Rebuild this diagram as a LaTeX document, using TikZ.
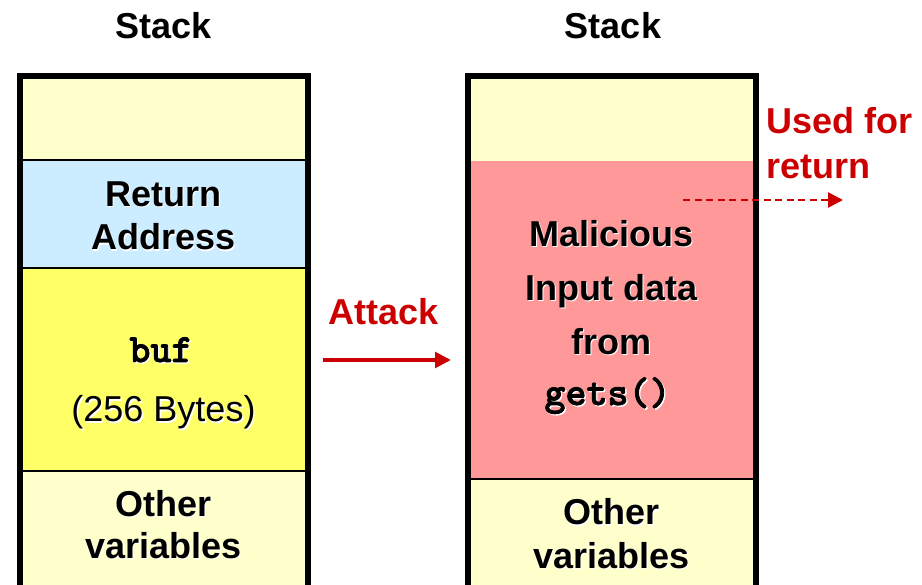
\documentclass[tikz,border=0pt]{standalone}
\usepackage{fontspec}
\setmainfont{Liberation Sans}
\newfontfamily\codefont{Latin Modern Mono Light}[BoldFeatures={FakeBold=2}]
\usetikzlibrary{arrows.meta}

\definecolor{paleyel}{HTML}{FFFFCC}
\definecolor{paleblue}{HTML}{CCECFF}
\definecolor{bufyel}{HTML}{FFFF66}
\definecolor{evilred}{HTML}{FF9999}
\definecolor{alertred}{HTML}{CC0000}

% soft white drop shadow behind cell labels
\newcommand\shtext[1]{\rlap{\kern1.3pt\raisebox{-1.3pt}{\color{white}#1}}#1}

\tikzset{
  cell/.style={rectangle, inner sep=0pt, outer sep=0pt, minimum width=288pt, draw=none},
  wall/.style={line width=6pt, line join=miter, black},
  divider/.style={line width=1.6pt, black},
  big/.style={font=\fontsize{36}{40}\selectfont\bfseries, inner sep=0pt, anchor=base},
  bigplain/.style={font=\fontsize{36}{40}\selectfont, inner sep=0pt, anchor=base},
  bigmono/.style={font=\fontsize{40}{44}\selectfont\codefont\bfseries, inner sep=0pt, anchor=base},
  alert/.style={font=\fontsize{36}{40}\selectfont\bfseries, text=alertred, inner sep=0pt, anchor=base},
}

\begin{document}
\begin{tikzpicture}[x=1pt, y=-1pt]
\useasboundingbox (0,0) rectangle (922,585);

% ---- left stack: normal frame ----
\node[cell, fill=paleyel,  minimum height=83.7pt]  (ltop) at (163.5,118.15) {};
\node[cell, fill=paleblue, minimum height=108.3pt] (lret) at (163.5,214.15) {};
\node[cell, fill=bufyel,   minimum height=202.7pt] (lbuf) at (163.5,369.65) {};
\node[cell, fill=paleyel,  minimum height=114pt]   (loth) at (163.5,528) {};

\draw[divider] (lret.north west) -- (lret.north east);
\draw[divider] (lbuf.north west) -- (lbuf.north east);
\draw[divider] (loth.north west) -- (loth.north east);
\draw[wall] (loth.south west) -- (ltop.north west) -- (ltop.north east) -- (loth.south east);

\node[big] (ltitle) at (163.5,39) {Stack};
\node[big] (lret1) at (163.5,206.7) {\shtext{Return}};
\node[big] (lret2) at (163.5,250) {\shtext{Address}};
\node[bigmono] (lbuf1) at (161,362) {\shtext{buf}};
\node[bigplain] (lbuf2) at (163.5,422) {\shtext{(256 Bytes)}};
\node[big] (loth1) at (163.5,516.7) {\shtext{Other}};
\node[big] (loth2) at (163.5,558.3) {\shtext{variables}};

% ---- attack arrow ----
\node[alert] (attack) at (383.5,325) {Attack};
\coordinate (atkS) at (323.3,360);
\coordinate (atkE) at (451,360);
\draw[alertred, line width=4pt, -{Triangle[length=16pt, width=15.5pt]}] (atkS) -- (atkE);

% ---- right stack: overflowed frame ----
\node[cell, fill=paleyel,  minimum height=84.4pt]  (rtop) at (611.5,118.5) {};
\node[cell, fill=evilred,  minimum height=318.6pt] (rmal) at (611.5,320) {};
\node[cell, fill=paleyel,  minimum height=105.7pt] (roth) at (611.5,532.15) {};

\draw[divider] (roth.north west) -- (roth.north east);
\draw[wall] (roth.south west) -- (rtop.north west) -- (rtop.north east) -- (roth.south east);

\node[big] (rtitle) at (613,39) {Stack};
\node[big] (rmal1) at (611.5,246.7) {\shtext{Malicious}};
\node[big] (rmal2) at (611.5,300.7) {\shtext{Input data}};
\node[big] (rmal3) at (611.5,354.3) {\shtext{from}};
\node[bigmono] (rmal4) at (607.5,405) {\shtext{gets()}};
\node[big] (roth1) at (611.5,525) {\shtext{Other}};
\node[big] (roth2) at (611.5,568.3) {\shtext{variables}};

% ---- hijacked return ----
\node[alert, anchor=base west] (used1) at (766,133.3) {Used for};
\node[alert, anchor=base west] (used2) at (766,178.3) {return};
\coordinate (retS) at (683,200);
\coordinate (retE) at (843,200);
\draw[alertred, line width=2.5pt, dash pattern=on 7pt off 4.5pt,
      -{Triangle[length=15pt, width=15pt]}] (retS) -- (retE);
\end{tikzpicture}
\end{document}
